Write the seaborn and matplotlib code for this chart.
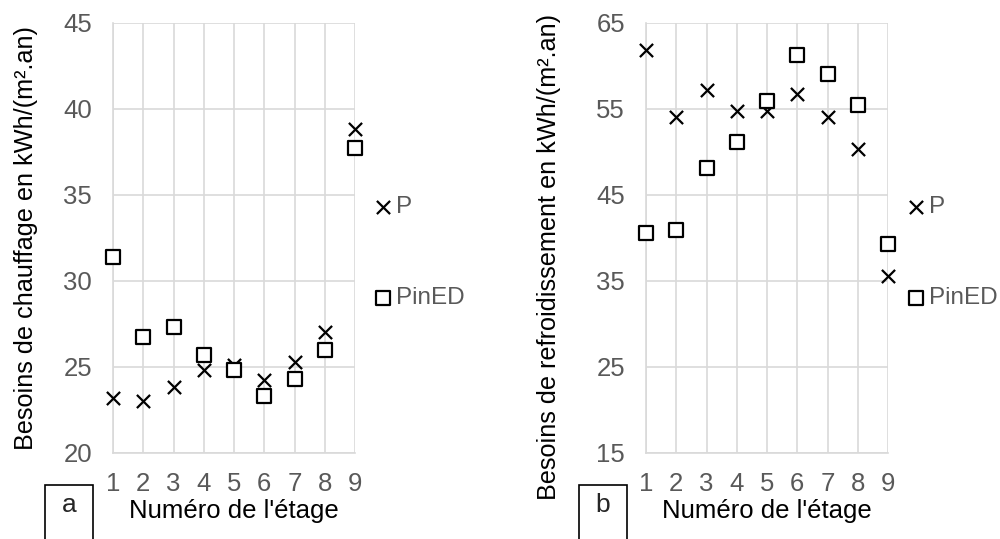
import matplotlib
matplotlib.use('Agg')
import matplotlib.pyplot as plt
import seaborn as sns
import pandas as pd
from matplotlib.patches import Rectangle

# Data
etages = [1, 2, 3, 4, 5, 6, 7, 8, 9]
chauffage_p = [23.2, 23.0, 23.8, 24.8, 25.1, 24.2, 25.3, 27.0, 38.8]
chauffage_pined = [31.4, 26.7, 27.3, 25.7, 24.8, 23.3, 24.3, 26.0, 37.7]
refroid_p = [61.8, 54.0, 57.2, 54.7, 54.7, 56.7, 54.0, 50.3, 35.6]
refroid_pined = [40.5, 40.9, 48.1, 51.1, 55.9, 61.2, 59.0, 55.4, 39.3]

sns.set_theme(style='white')
plt.rcParams['font.family'] = ['Liberation Sans', 'DejaVu Sans']

grey_txt = '#595959'
grid_c = '#d9d9d9'

fig = plt.figure(figsize=(10, 5.39), dpi=100)
ax1 = fig.add_axes([0.113, 0.160, 0.242, 0.798])
ax2 = fig.add_axes([0.646, 0.160, 0.242, 0.798])

# axes, values, y range, y ticks, y label, tag, tag box x, y label anchor
panels = [
    (ax1, chauffage_p, chauffage_pined, (20, 45), [20, 25, 30, 35, 40, 45],
     'Besoins de chauffage en kWh/(m².an)', 'a', 0.045, (-0.31, 0.50)),
    (ax2, refroid_p, refroid_pined, (15, 65), [15, 25, 35, 45, 55, 65],
     'Besoins de refroidissement en kWh/(m².an)', 'b', 0.579, (-0.35, 0.455)),
]

for ax, p_vals, pined_vals, ylim, yticks, ylab, tag, bx, lab_xy in panels:
    df = pd.DataFrame({'etage': etages * 2,
                       'val': p_vals + pined_vals,
                       'serie': ['P'] * 9 + ['PinED'] * 9})
    sns.scatterplot(data=df[df.serie == 'P'], x='etage', y='val', ax=ax,
                    marker='x', s=90, color='black', linewidth=1.6,
                    label='P', clip_on=False, zorder=5)
    sns.scatterplot(data=df[df.serie == 'PinED'], x='etage', y='val', ax=ax,
                    marker='s', s=110, facecolor='white', edgecolor='black',
                    linewidth=1.6, label='PinED', clip_on=False, zorder=5)
    ax.set_xlim(1, 9)
    ax.set_ylim(*ylim)
    ax.set_xticks(etages)
    ax.set_yticks(yticks)
    ax.grid(True, color=grid_c, linewidth=1.2)
    ax.set_axisbelow(True)
    for s in ['top', 'right']:
        ax.spines[s].set_visible(False)
    for s in ['left', 'bottom']:
        ax.spines[s].set_color(grid_c)
        ax.spines[s].set_linewidth(1.2)
    ax.tick_params(axis='both', labelsize=18.5, labelcolor=grey_txt, length=0)
    ax.tick_params(axis='y', pad=15)
    ax.tick_params(axis='x', pad=14)
    ax.set_xlabel("Numéro de l'étage", fontsize=18.5, color='black', labelpad=2)
    ax.set_ylabel(ylab, fontsize=18.2, color='black')
    ax.yaxis.set_label_coords(*lab_xy)
    leg = ax.legend(loc='center left', bbox_to_anchor=(1.02, 0.465), frameon=False,
                    fontsize=17.5, labelspacing=2.85, handletextpad=0.0,
                    handlelength=1.1, borderaxespad=0)
    for t in leg.get_texts():
        t.set_color(grey_txt)
    fig.patches.append(Rectangle((bx, -0.02), 0.048, 0.12, transform=fig.transFigure,
                                 facecolor='white', edgecolor='black', linewidth=1.2))
    fig.text(bx + 0.024, 0.064, tag, fontsize=19, ha='center', va='center')

fig.savefig('out.png', dpi=100)
